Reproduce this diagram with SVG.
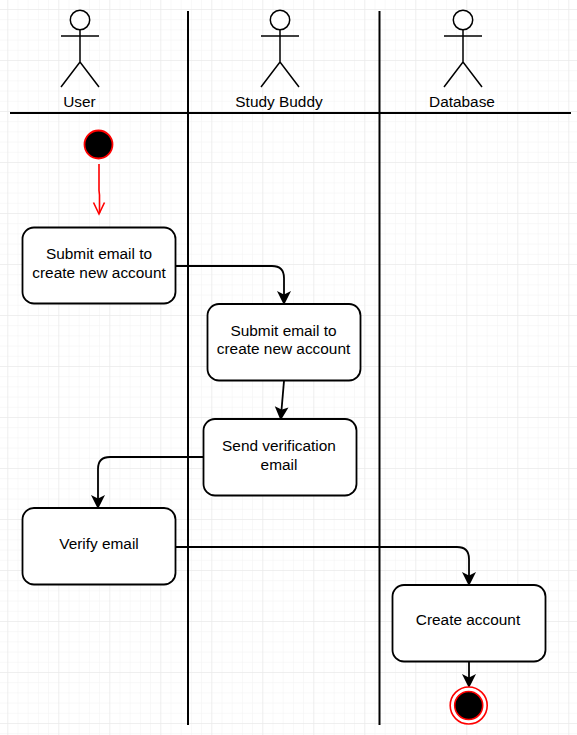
<svg xmlns="http://www.w3.org/2000/svg" width="577" height="735" viewBox="0 0 577 735">
<style>
.n{fill:#fff;stroke:#000;stroke-width:1.800}
.t{font-family:"Liberation Sans",Arial,sans-serif;font-size:15.400px;fill:#000;text-anchor:middle}
.c{fill:none;stroke:#000;stroke-width:1.800}
.l{fill:none;stroke:#000;stroke-width:2}
.ah{fill:#000;stroke:#000;stroke-width:1.800}
</style>
<defs>
<pattern id="minor" width="10.2" height="10.2" patternUnits="userSpaceOnUse" x="7.3" y="9">
<path d="M10.2 0H0V10.2" fill="none" stroke="#f2f2f2" stroke-width="1"/>
</pattern>
<pattern id="major" width="51" height="51" patternUnits="userSpaceOnUse" x="7.3" y="9">
<path d="M51 0H0V51" fill="none" stroke="#e6e6e6" stroke-width="1"/>
</pattern>
<g id="actor">
<circle cx="0" cy="10" r="9.700" fill="#fff" stroke="#000" stroke-width="1.500"/>
<path d="M0 20V52M-19 26H19M-19 77L0 52 19 77" fill="none" stroke="#000" stroke-width="1.500"/>
</g>
</defs>
<rect width="577" height="735" fill="#fff"/>
<rect width="577" height="735" fill="url(#minor)"/>
<rect width="577" height="735" fill="url(#major)"/>
<g id="connectors">
<path d="M99 164V190.500L99.500 195V213" fill="none" stroke="#f00" stroke-width="1.600"/>
<path d="M93.500 202.500L99 214 104.500 202.500" fill="none" stroke="#f00" stroke-width="1.600"/>
<path class="c" d="M176 266H272Q284 266 284 278V295"/>
<path class="ah" d="M284 303L279 293 284 295.500 289 293Z"/>
<path class="c" d="M284 381L281.500 410"/>
<path class="ah" d="M280.800 418.500L276.500 408 281.600 410.500 286.500 409Z"/>
<path class="c" d="M203 457H110Q98 457 98 469V499"/>
<path class="ah" d="M98 507L93 497 98 499.500 103 497Z"/>
<path class="c" d="M176 547H457Q469 547 469 559V576"/>
<path class="ah" d="M469 584L464 574 469 576.500 474 574Z"/>
<path class="c" d="M469 661V679"/>
<path class="ah" d="M469 686L464 676 469 678.500 474 676Z"/>
</g>
<g id="swimlanes">
<path class="l" d="M10 113H571M188 11V725M379.500 11V725"/>
</g>
<g id="actor-user"><use href="#actor" x="80" y="10"/><text class="t" x="79.500" y="107">User</text></g>
<g id="actor-study-buddy"><use href="#actor" x="280" y="10"/><text class="t" x="279" y="107">Study Buddy</text></g>
<g id="actor-database"><use href="#actor" x="463" y="10"/><text class="t" x="462" y="107">Database</text></g>
<g id="start"><circle cx="98.500" cy="144.500" r="14" fill="#000" stroke="#f00" stroke-width="1.800"/></g>
<g id="submit-user"><rect class="n" x="22.500" y="227.500" width="153" height="76" rx="11.500"/><text class="t" x="99" y="259">Submit email to</text><text class="t" x="99" y="277.500">create new account</text></g>
<g id="submit-buddy"><rect class="n" x="207.500" y="304" width="153" height="76.500" rx="11.500"/><text class="t" x="283.500" y="335.500">Submit email to</text><text class="t" x="283.500" y="354">create new account</text></g>
<g id="send-verification"><rect class="n" x="203.500" y="419" width="153" height="76.500" rx="11.500"/><text class="t" x="279" y="450.500">Send verification</text><text class="t" x="279" y="469.500">email</text></g>
<g id="verify"><rect class="n" x="22.500" y="508" width="153" height="76.500" rx="11.500"/><text class="t" x="99" y="549">Verify email</text></g>
<g id="create"><rect class="n" x="392.500" y="585" width="153" height="76.500" rx="11.500"/><text class="t" x="468" y="624.500">Create account</text></g>
<g id="end"><circle cx="468.700" cy="705.500" r="18.500" fill="#fff" stroke="#f00" stroke-width="1.600"/><circle cx="468.700" cy="705.500" r="14" fill="#000" stroke="#f00" stroke-width="1.600"/></g>
</svg>
